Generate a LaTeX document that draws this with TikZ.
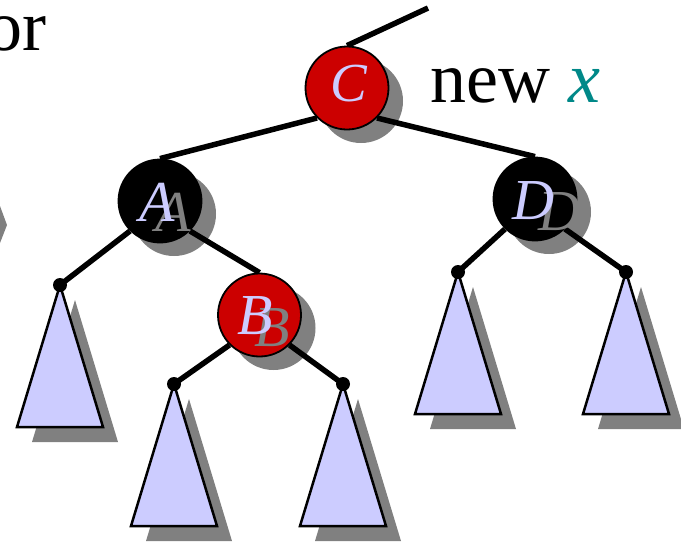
\documentclass[tikz,border=0pt]{standalone}
\usepackage{fontspec}
\setmainfont{Liberation Serif}
\pgfdeclarelayer{shade}
\pgfdeclarelayer{bg}
\pgfsetlayers{shade,bg,main}
\definecolor{nred}{RGB}{204,0,0}
\definecolor{lav}{RGB}{204,204,255}
\definecolor{shd}{RGB}{128,128,128}
\definecolor{tealx}{RGB}{0,136,136}
\begin{document}
\begin{tikzpicture}[x=1pt,y=-1pt,
  rbnode/.style={circle, draw=black, line width=1.8pt, minimum size=83pt, inner sep=0pt},
  redn/.style={rbnode, fill=nred},
  blackn/.style={rbnode, fill=black},
  shadown/.style={circle, fill=shd, minimum size=84pt, inner sep=0pt},
  dotn/.style={circle, fill=black, minimum size=14pt, inner sep=0pt},
  edge/.style={line width=5.5pt},
  tri/.style={fill=lav, draw=black, line width=2.5pt, line join=miter},
  trishadow/.style={fill=shd},
  lbl/.style={font=\fontsize{58}{60}\selectfont\itshape, text=lav, inner sep=0pt},
  glbl/.style={font=\fontsize{58}{60}\selectfont\itshape, text=shd, inner sep=0pt},
  bigtext/.style={font=\fontsize{72}{80}\selectfont, inner sep=0pt}]
\useasboundingbox (0,0) rectangle (681,542);

% tree nodes
\node[redn]   (C) at (347,88) {};
\node[blackn] (A) at (160,201) {};
\node[blackn] (D) at (535,199) {};
\node[redn]   (B) at (259.5,315) {};

% leaf dots
\node[dotn] (L1) at (60,285) {};
\node[dotn] (B1) at (174,384) {};
\node[dotn] (B2) at (343,384) {};
\node[dotn] (D1) at (458,272) {};
\node[dotn] (D2) at (626,272) {};

\coordinate (top) at (428,8);

% labels
\node[glbl] (Ag) at (173.5,212.5) {A};
\node[lbl]  (Al) at (157.5,202.5) {A};
\node[glbl] (Dg) at (559.5,212) {D};
\node[lbl]  (Dl) at (533.5,201) {D};
\node[glbl] (Bg) at (272.5,327.5) {B};
\node[lbl]  (Bl) at (255.5,316) {B};
\node[lbl, font=\fontsize{55}{58}\selectfont\itshape] (Cl) at (349,84) {C};

% texts
\node[bigtext, anchor=base east] (or) at (47,50) {or};
\node[bigtext, anchor=base west] (newx) at (430,102) {new \textcolor{tealx}{\itshape x}};

% shadows
\begin{pgfonlayer}{shade}
  \node[shadown] (Cs) at ([shift={(14,13)}]C.center) {};
  \node[shadown] (As) at ([shift={(14,13)}]A.center) {};
  \node[shadown] (Ds) at ([shift={(14,13)}]D.center) {};
  \node[shadown] (Bs) at ([shift={(14,13)}]B.center) {};
  \foreach \n in {L1,B1,B2,D1,D2}
    \fill[trishadow] ([shift={(15,15)}]\n.center) -- ++(-43,142) -- ++(86,0) -- cycle;
  \fill[shd] (0,206) -- (7,225) -- (0,243) -- cycle;
\end{pgfonlayer}

% edges and subtrees
\begin{pgfonlayer}{bg}
  \draw[edge] (C.north) -- (top);
  \draw[edge] (C.south west) -- (A.north);
  \draw[edge] (C.south east) -- (D.north);
  \draw[edge] (A.south west) -- (L1.center);
  \draw[edge] (A.south east) -- (B.north);
  \draw[edge] (B.south west) -- (B1.center);
  \draw[edge] (B.south east) -- (B2.center);
  \draw[edge] (D.south west) -- (D1.center);
  \draw[edge] (D.south east) -- (D2.center);
  \foreach \n in {L1,B1,B2,D1,D2}
    \path[tri] (\n.center) -- ++(-43,142) -- ++(86,0) -- cycle;
\end{pgfonlayer}
\end{tikzpicture}
\end{document}
